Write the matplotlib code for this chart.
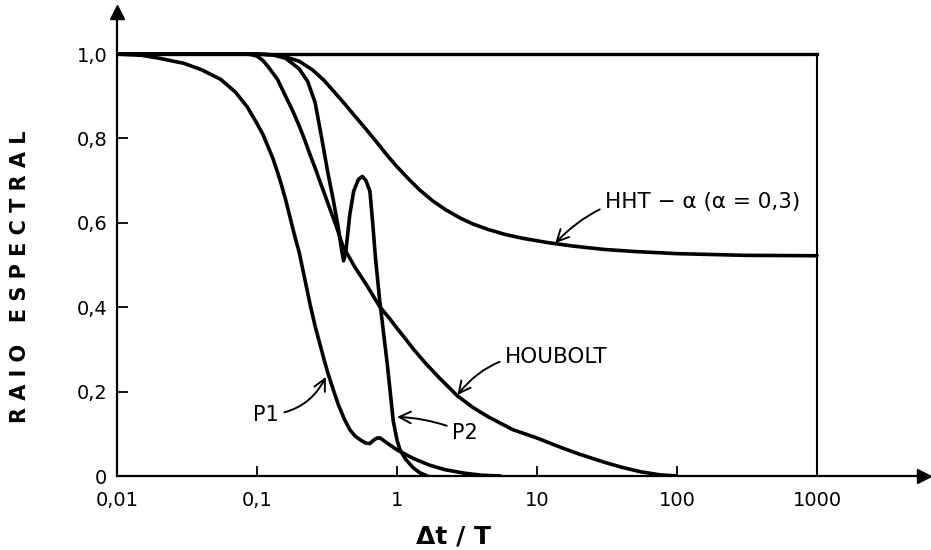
import matplotlib
matplotlib.use("Agg")
import matplotlib.pyplot as plt

# spectral radius vs dt/T for four integration schemes
p1_x = [0.01, 0.015, 0.02, 0.03, 0.04, 0.055, 0.07, 0.085, 0.1, 0.11, 0.12, 0.13,
        0.14, 0.15, 0.16, 0.17, 0.18, 0.19, 0.2, 0.22, 0.24, 0.26, 0.28, 0.3, 0.32,
        0.35, 0.38, 0.42, 0.46, 0.5, 0.55, 0.6, 0.64, 0.68, 0.72, 0.76, 0.85, 1.0,
        1.3, 1.7, 2.2, 3.0, 4.0, 5.5]
p1_y = [1.0, 0.997, 0.99, 0.978, 0.963, 0.94, 0.91, 0.875, 0.835, 0.81, 0.78, 0.752,
        0.72, 0.688, 0.655, 0.62, 0.587, 0.557, 0.53, 0.465, 0.405, 0.355, 0.315,
        0.278, 0.245, 0.205, 0.17, 0.135, 0.11, 0.095, 0.085, 0.078, 0.077, 0.085,
        0.09, 0.09, 0.078, 0.062, 0.042, 0.026, 0.015, 0.007, 0.002, 0.0]

p2_x = [0.01, 0.1, 0.13, 0.16, 0.2, 0.23, 0.26, 0.29, 0.32, 0.35, 0.38, 0.4, 0.415,
        0.43, 0.46, 0.49, 0.53, 0.565, 0.6, 0.64, 0.67, 0.7, 0.75, 0.8, 0.85, 0.9,
        0.94, 1.0, 1.05, 1.15, 1.3, 1.45, 1.65]
p2_y = [1.0, 1.0, 0.998, 0.99, 0.965, 0.935, 0.885, 0.8, 0.72, 0.655, 0.59, 0.54, 0.51,
        0.53, 0.62, 0.675, 0.703, 0.71, 0.70, 0.675, 0.6, 0.52, 0.42, 0.34, 0.268, 0.19,
        0.13, 0.085, 0.062, 0.04, 0.02, 0.008, 0.0]

houbolt_x = [0.01, 0.08, 0.09, 0.1, 0.11, 0.12, 0.14, 0.16, 0.18, 0.2, 0.22, 0.24,
             0.26, 0.28, 0.3, 0.33, 0.37, 0.41, 0.5, 0.6, 0.75, 0.9, 1.0, 1.15, 1.3,
             1.6, 2.0, 2.7, 3.5, 4.5, 6.7, 10, 15, 20, 30, 40, 55, 75, 100]
houbolt_y = [1.0, 1.0, 0.999, 0.995, 0.985, 0.97, 0.94, 0.9, 0.865, 0.83, 0.795, 0.76,
             0.73, 0.70, 0.673, 0.635, 0.59, 0.545, 0.495, 0.455, 0.402, 0.37, 0.35,
             0.325, 0.302, 0.267, 0.233, 0.19, 0.162, 0.14, 0.11, 0.09, 0.067, 0.052,
             0.033, 0.021, 0.01, 0.003, 0.0]

hht_x = [0.01, 0.1, 0.13, 0.16, 0.2, 0.25, 0.3, 0.35, 0.42, 0.5, 0.6, 0.72, 0.85, 1.0,
         1.2, 1.45, 1.8, 2.2, 2.8, 3.5, 4.5, 6, 8, 12, 18, 30, 50, 100, 300, 1000]
hht_y = [1.0, 1.0, 0.998, 0.993, 0.983, 0.962, 0.938, 0.913, 0.883, 0.853, 0.822,
         0.79, 0.76, 0.733, 0.705, 0.678, 0.652, 0.632, 0.612, 0.597, 0.584, 0.572,
         0.563, 0.553, 0.545, 0.537, 0.532, 0.527, 0.523, 0.522]

x_ticks = [0.01, 0.1, 1, 10, 100, 1000]
x_tick_labels = ["0,01", "0,1", "1", "10", "100", "1000"]
y_ticks = [0, 0.2, 0.4, 0.6, 0.8, 1.0]
y_tick_labels = ["0", "0,2", "0,4", "0,6", "0,8", "1,0"]

LW = 2.6
fig = plt.figure(figsize=(9.31, 5.5), dpi=100)
ax = fig.add_axes([0.1257, 0.1345, 0.8668, 0.8436])
ax.set_xscale("log")
ax.set_xlim(0.01, 10 ** 3.764)
ax.set_ylim(0, 1.0995)

for xs, ys in [(p1_x, p1_y), (p2_x, p2_y), (houbolt_x, houbolt_y), (hht_x, hht_y)]:
    ax.plot(xs, ys, color="black", lw=LW, solid_joinstyle="round", solid_capstyle="round")

# frame: top line at 1,0 and closing line at 1000
ax.plot([0.01, 1000], [1.0, 1.0], color="black", lw=2.4)
ax.plot([1000, 1000], [0, 1.0], color="black", lw=1.5)

for side in ("top", "right"):
    ax.spines[side].set_visible(False)
for side in ("left", "bottom"):
    ax.spines[side].set_linewidth(1.6)
ax.plot([1], [0], marker=">", ms=10, color="black", transform=ax.transAxes, clip_on=False)
ax.plot([0], [1], marker="^", ms=10, color="black", transform=ax.transAxes, clip_on=False)

ax.set_xticks(x_ticks)
ax.set_xticklabels(x_tick_labels)
ax.minorticks_off()
ax.set_yticks(y_ticks)
ax.set_yticklabels(y_tick_labels)
ax.tick_params(axis="x", direction="in", length=7, width=1.3, pad=11, labelsize=14)
ax.tick_params(axis="y", direction="in", length=8, width=1.3, pad=7, labelsize=14)

arrow = dict(arrowstyle="->,head_length=0.6,head_width=0.3", lw=1.4, color="black",
             mutation_scale=14, shrinkA=2, shrinkB=0)
ax.annotate("P1", xy=(0.31, 0.235), xytext=(0.116, 0.145), fontsize=15,
            ha="center", va="center",
            arrowprops=dict(arrow, connectionstyle="arc3,rad=0.3"))
ax.annotate("P2", xy=(1.0, 0.14), xytext=(3.06, 0.102), fontsize=15,
            ha="center", va="center",
            arrowprops=dict(arrow, connectionstyle="arc3,rad=0.1"))
ax.annotate("HOUBOLT", xy=(2.7, 0.192), xytext=(5.9, 0.282), fontsize=15.5,
            ha="left", va="center",
            arrowprops=dict(arrow, connectionstyle="arc3,rad=0.3"))
ax.annotate("HHT − α (α = 0,3)", xy=(13.5, 0.552), xytext=(30.6, 0.649), fontsize=15.5,
            ha="left", va="center",
            arrowprops=dict(arrow, connectionstyle="arc3,rad=0.3"))

fig.text(20 / 931, 1 - 277 / 550, "R A I O   E S P E C T R A L", rotation=90,
         fontsize=15, fontweight="bold", ha="center", va="center")
fig.text(453 / 931, 1 - 537 / 550, "Δt / T", fontsize=18, fontweight="bold",
         ha="center", va="center")

fig.savefig("out.png", dpi=100)
